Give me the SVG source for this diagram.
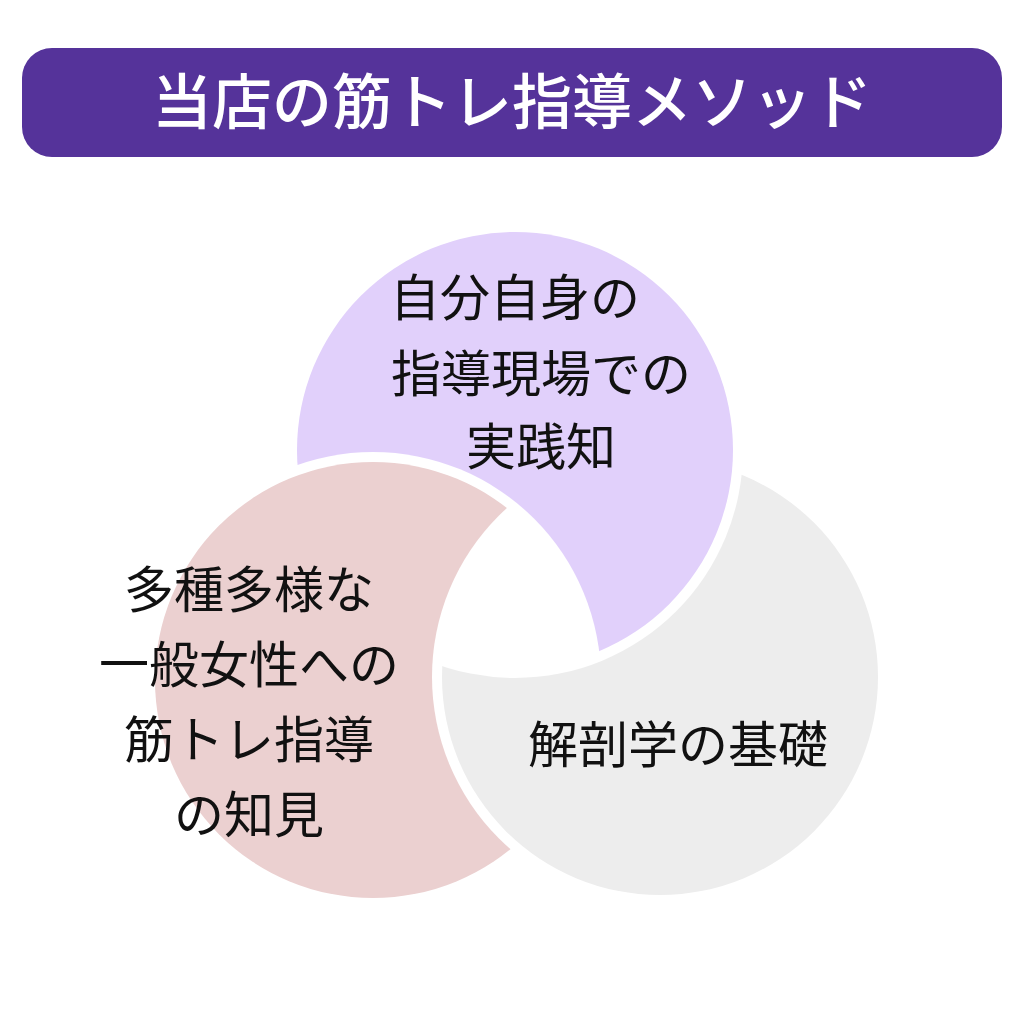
<svg xmlns="http://www.w3.org/2000/svg" width="1024" height="1024" viewBox="0 0 1024 1024">
<defs>
<style>
.t{font-family:"Noto Sans CJK JP",sans-serif;font-size:50px;fill:#111;text-anchor:middle}
.h{font-family:"Noto Sans CJK JP",sans-serif;font-size:60px;font-weight:500;fill:#fff;text-anchor:middle}
</style>
<mask id="mP"><rect width="1024" height="1024" fill="#fff"/><circle cx="373" cy="680" r="228" fill="#000"/></mask>
<mask id="mG"><rect width="1024" height="1024" fill="#fff"/><circle cx="515" cy="450" r="228" fill="#000"/></mask>
<mask id="mK"><rect width="1024" height="1024" fill="#fff"/><circle cx="660" cy="677" r="228" fill="#000"/></mask>
</defs>
<rect width="1024" height="1024" fill="#fff"/>
<g id="header"><rect x="22" y="48" width="980" height="109" rx="30" fill="#55339A"/><text class="h" x="512" y="124">当店の筋トレ指導メソッド</text></g>
<g id="purple"><circle cx="515" cy="450" r="218" fill="#E1D0FB" mask="url(#mP)"/>
<text class="t" x="515" y="316">自分自身の</text><text class="t" x="541" y="392">指導現場での</text><text class="t" x="541" y="465">実践知</text></g>
<g id="grey"><circle cx="660" cy="677" r="218" fill="#EDEDED" mask="url(#mG)"/>
<text class="t" x="678" y="763">解剖学の基礎</text></g>
<g id="pink"><circle cx="373" cy="680" r="218" fill="#EBD0D0" mask="url(#mK)"/>
<text class="t" x="249" y="608">多種多様な</text><text class="t" x="249" y="683">一般女性への</text><text class="t" x="249" y="758">筋トレ指導</text><text class="t" x="249" y="833">の知見</text></g>
<g id="connectors"/>
</svg>
